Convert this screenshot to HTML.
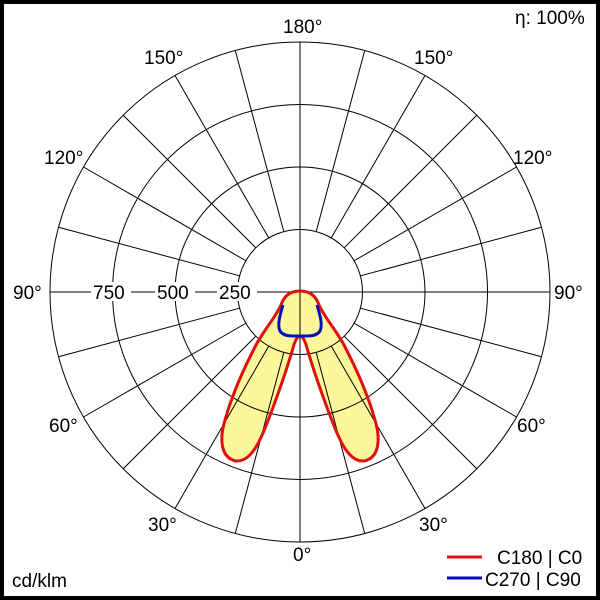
<!DOCTYPE html>
<html><head><meta charset="utf-8"><style>
html,body{margin:0;padding:0;background:#fff}
svg{display:block}
text{font-family:"Liberation Sans",Arial,sans-serif;font-size:19px;fill:#000}
</style></head><body>
<svg id="s" width="600" height="600" viewBox="0 0 600 600" xmlns="http://www.w3.org/2000/svg">
<rect x="2" y="2" width="596" height="596" fill="#fff" stroke="#000" stroke-width="4"/>
<path d="M300,291 C290,291 284,296 281,305 C275,318 264,330 256,345 C243,370 232,395 225,420 C219,440 221,458 236,461 C250,462 259,445 269,418 C279,392 288,365 293,348 C295,340 298,336 300,336 C302,336 305,340 307,348 C312,365 321,392 331,418 C341,445 350,462 364,461 C379,458 381,440 375,420 C368,395 357,370 344,345 C336,330 325,318 319,305 C316,296 310,291 300,291 Z" fill="#fbf79a" stroke="none"/>
<g id="grid" stroke="#000" stroke-width="1" fill="none"></g>
<path d="M300,291 C290,291 284,296 281,305 C275,318 264,330 256,345 C243,370 232,395 225,420 C219,440 221,458 236,461 C250,462 259,445 269,418 C279,392 288,365 293,348 C295,340 298,336 300,336 C302,336 305,340 307,348 C312,365 321,392 331,418 C341,445 350,462 364,461 C379,458 381,440 375,420 C368,395 357,370 344,345 C336,330 325,318 319,305 C316,296 310,291 300,291 Z" fill="none" stroke="#e01010" stroke-width="3"/>
<path d="M283,305 C280,315 277,325 280,331 C284,337 292,336 300,336 C308,336 316,337 320,331 C323,325 320,315 317,305" fill="none" stroke="#0010c0" stroke-width="3"/>
<g>
<rect x="217" y="282" width="40" height="19" fill="#fff"/>
<rect x="155" y="282" width="40" height="19" fill="#fff"/>
<rect x="91" y="282" width="40" height="19" fill="#fff"/>
<text x="219" y="299">250</text>
<text x="157" y="299">500</text>
<text x="93" y="299">750</text>
<text x="13" y="299">90°</text>
<text x="554" y="299">90°</text>
<text x="283" y="33">180°</text>
<text x="144" y="64">150°</text>
<text x="414" y="64">150°</text>
<text x="44" y="164">120°</text>
<text x="513" y="164">120°</text>
<text x="49" y="432">60°</text>
<text x="517" y="432">60°</text>
<text x="148" y="531">30°</text>
<text x="419" y="531">30°</text>
<text x="293" y="561">0°</text>
<text x="515" y="24">η: 100%</text>
<text x="12" y="587">cd/klm</text>
<line x1="447" y1="557" x2="482" y2="557" stroke="#e01010" stroke-width="3"/>
<text x="497" y="564">C180 | C0</text>
<line x1="447" y1="578" x2="482" y2="578" stroke="#0010c0" stroke-width="3"/>
<text x="485" y="586">C270 | C90</text>
</g>
</svg>
<script>
var g=document.getElementById('grid'),cx=300,cy=292,ns='http://www.w3.org/2000/svg';
function el(t,a){var e=document.createElementNS(ns,t);for(var k in a)e.setAttribute(k,a[k]);g.appendChild(e);}
[62.5,125,187.5,250].forEach(function(r){el('circle',{cx:cx,cy:cy,r:r});});
for(var a=0;a<360;a+=15){var t=a*Math.PI/180,r0=(a%90==0)?0:62.5;
el('line',{x1:cx+r0*Math.sin(t),y1:cy+r0*Math.cos(t),x2:cx+250*Math.sin(t),y2:cy+250*Math.cos(t)});}
</script>
</body></html>
